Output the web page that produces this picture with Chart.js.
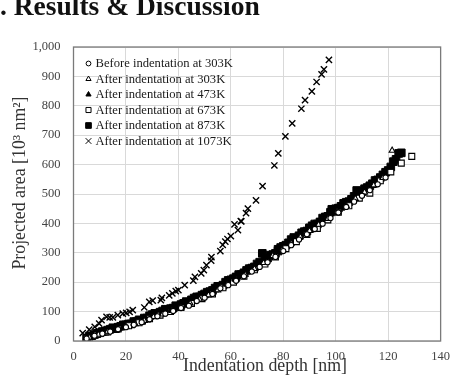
<!DOCTYPE html>
<html><head><meta charset="utf-8">
<script src="https://cdn.jsdelivr.net/npm/chart.js@4.4.0/dist/chart.umd.min.js"></script>
<style>
html,body{margin:0;padding:0;background:#fff;}
#wrap{position:relative;width:458px;height:384px;overflow:hidden;background:#fff;}
#hdr{position:absolute;left:0px;top:-8px;font:bold 27.5px/27px "Liberation Serif","Times New Roman",serif;color:#111;white-space:nowrap;}
canvas{position:absolute;left:0;top:0;}
</style></head><body>
<div id="wrap"><canvas id="c" width="458" height="384"></canvas><div id="hdr">. Results &amp; Discussion</div></div>
<script>
// ---- data ----
const seriesLabels = [
  "Before indentation at 303K",
  "After indentation at 303K",
  "After indentation at 473K",
  "After indentation at 673K",
  "After indentation at 873K",
  "After indentation at 1073K"
];
const xTicks = [0, 20, 40, 60, 80, 100, 120, 140];
const yTicks = [0, 100, 200, 300, 400, 500, 600, 700, 800, 900, 1000];
const xTitle = "Indentation depth [nm]";
const yTitle = "Projected area [10\u00B3 nm\u00B2]";

const before303X = [5,8,11,14,17,20,23,26,29,32,35,38,41,44,47,50,53,56,59,62,65,68,71,74,77,80,83,86,89,92,95,98,101,104,107,110,113,116,119];
const before303Y = [8,18,25,32,40,47,55,64,74,84,93,102,112,120,136,147,160,179,190,205,220,236,252,268,286,306,326,345,363,381,399,418,437,456,474,494,513,533,556];

const after303X = [6,9.5,13,16.5,20,23.5,27,30.5,34,37.5,41,44.5,48,51.5,55,58.5,62,65.5,69,72.5,76,79.5,83,86.5,90,93.5,97,100.5,104,107.5,111,114.5,118,121.5];
const after303Y = [12,22,32,41,49,58,69,82,91,103,114,128,142,156,173,192,208,226,245,266,290,310,332,354,375,396,416,440,460,484,506,530,555,648];

const after473X = [5.5,9,12.5,16,19.5,23,26.5,30,33.5,37,40.5,44,47.5,51,54.5,58,61.5,65,68.5,72,75.5,79,82.5,86,89.5,93,96.5,100,103.5,107,110.5,114,117.5,121];
const after473Y = [12,24,33,42,51,60,72,84,94,106,117,130,145,158,175,194,210,228,248,268,290,310,332,355,376,396,418,440,462,484,507,532,560,590];

const after673X = [5,9,13,17,21,25,29,33,37,41,45,49,53,57,61,65,69,73,77,81,85,89,93,97,101,105,109,113,117,121,125,129];
const after673Y = [8,22,31,41,52,62,76,88,100,114,128,144,160,181,200,220,242,262,286,314,338,362,383,412,438,460,486,503,545,575,605,628];

const after873X = [5,6,8,10,12,14,16,18,20,22,24,26,28,30,32,34,36,38,40,42,44,46,48,50,52,54,56,58,60,62,64,66,68,70,72,74,76,78,80,82,84,86,88,90,92,94,96,98,100,102,104,106,108,110,112,114,116,118,120,122,124,
                   7,9,11,13,15,17,19,21,23,25,27,29,31,33,35,37,39,41,43,45,47,49,51,53,55,57,59,61,63,65,67,69,71,73,75,77,79,81,83,85,87,89,91,93,95,97,99,101,103,105,107,109,111,113,115,117,119,121,123,125,
                   78,90,98.5];
const after873Y = [10,16,22,28,33,40,42,50,55,58,66,70,78,90,92,102,106,112,118,128,132,146,150,160,168,180,186,200,208,218,226,240,248,262,298,282,294,306,322,334,352,358,372,385,398,405,422,438,450,458,472,482,512,508,522,535,548,565,580,610,638,
                   18,26,32,37,45,47,55,58,66,72,78,86,94,98,108,110,120,124,134,140,150,156,166,172,186,190,206,212,226,232,246,252,268,274,292,298,318,326,345,350,368,374,392,398,418,424,444,452,468,474,492,500,518,528,546,556,574,592,618,640,
                   312,382,448];

const after1073X = [3.5,6,8.1,9.8,10.7,12.6,13.8,15,16.9,18.8,20.1,21.4,22.6,27,28.9,30.2,33.3,33.7,36.5,37.7,39,40,42.4,45.7,46.3,48.7,49.7,50.7,52.5,52.6,56,56.9,57.9,58.7,60,61.4,62.7,63.8,64,65.8,66.5,69.6,72.1,76.6,78.1,80.8,83.4,86.9,88.3,90.9,92.7,94.6,95.5,97.4];
const after1073Y = [27,39,48,59,71,82,80,80,88,93,96,99,105,114,133,137,139,147,155,162,170,173,190,205,218,230,241,258,273,285,306,327,338,347,357,397,377,408,407,435,450,478,527,597,638,696,740,790,819,849,881,907,924,956];

// ---- build datasets ----
function pts(xs, ys){ return xs.map((x,i)=>({x:x, y:ys[i]})); }
const styles = [
  {pointStyle:'circle',   radius:2.6, bg:'#fff', bw:1.1, lr:2.4},
  {pointStyle:'triangle', radius:3.4, bg:'#fff', bw:1.1, lr:3.0},
  {pointStyle:'triangle', radius:3.6, bg:'#000', bw:1.0, lr:3.0},
  {pointStyle:'rect',     radius:4.2, bg:'#fff', bw:1.1, lr:3.6},
  {pointStyle:'rect',     radius:5.4, bg:'#000', bw:1.0, lr:4.0},
  {pointStyle:'crossRot', radius:4.4, bg:'#000', bw:1.4, lr:4.0}
];
const allX = [before303X, after303X, after473X, after673X, after873X, after1073X];
const allY = [before303Y, after303Y, after473Y, after673Y, after873Y, after1073Y];
const datasets = seriesLabels.map((lab,i)=>({
  label: lab,
  data: pts(allX[i], allY[i]),
  pointStyle: styles[i].pointStyle,
  pointRadius: styles[i].radius,
  pointBackgroundColor: styles[i].bg,
  pointBorderColor: '#000',
  pointBorderWidth: styles[i].bw,
  showLine: false
}));

const serif = '"Liberation Serif","Times New Roman",serif';

const frame = {
  id:'frame',
  afterDraw(chart){
    const {ctx, chartArea:a} = chart;
    ctx.save();
    ctx.strokeStyle = '#7a7a7a';
    ctx.lineWidth = 1.3;
    ctx.strokeRect(a.left, a.top, a.right - a.left, a.bottom - a.top);
    // axis titles
    ctx.fillStyle = '#333';
    ctx.font = '17.8px ' + serif;
    ctx.textAlign = 'center';
    ctx.textBaseline = 'middle';
    ctx.fillText(xTitle, 265, 366.5);
    ctx.save();
    ctx.translate(20.5, 183);
    ctx.rotate(-Math.PI/2);
    ctx.fillText(yTitle, 0, 0);
    ctx.restore();
    // legend inside plot
    ctx.font = '12.6px ' + serif;
    ctx.textAlign = 'left';
    ctx.fillStyle = '#1a1a1a';
    chart.data.datasets.forEach((ds,i)=>{
      const y = 63.5 + i*15.5;
      ctx.save();
      ctx.fillStyle = styles[i].bg;
      ctx.strokeStyle = '#000';
      ctx.lineWidth = 1;
      Chart.helpers.drawPoint(ctx, {pointStyle: styles[i].pointStyle, radius: styles[i].lr, borderWidth: 1, rotation: 0}, 88.5, y);
      ctx.restore();
      ctx.fillText(ds.label, 95.5, y + 0.5);
    });
    ctx.restore();
  }
};

new Chart(document.getElementById('c'), {
  type: 'scatter',
  data: { datasets },
  options: {
    responsive: false,
    animation: false,
    events: [],
    layout: { padding: { top: 47, right: 14, bottom: 0, left: 0 } },
    plugins: { legend: { display: false }, tooltip: { enabled: false }, title: { display: false } },
    scales: {
      x: {
        type: 'linear', min: 0, max: 140,
        afterBuildTicks(s){ s.ticks = xTicks.map(v=>({value:v})); },
        afterFit(s){ s.height = 43; },
        grid: { color: '#d9d9d9', lineWidth: 1, drawTicks: false },
        border: { display: false },
        ticks: { padding: 8, color: '#444', font: { family: serif, size: 12.5 }, maxRotation: 0, callback: v => String(v) }
      },
      y: {
        type: 'linear', min: 0, max: 1000,
        afterBuildTicks(s){ s.ticks = yTicks.map(v=>({value:v})); },
        afterFit(s){ s.width = 73.5; },
        grid: { color: '#d9d9d9', lineWidth: 1, drawTicks: false },
        border: { display: false },
        ticks: { padding: 13, color: '#444', font: { family: serif, size: 12.5 }, callback: v => v.toLocaleString('en-US') }
      }
    }
  },
  plugins: [frame]
});
</script>
</body></html>
